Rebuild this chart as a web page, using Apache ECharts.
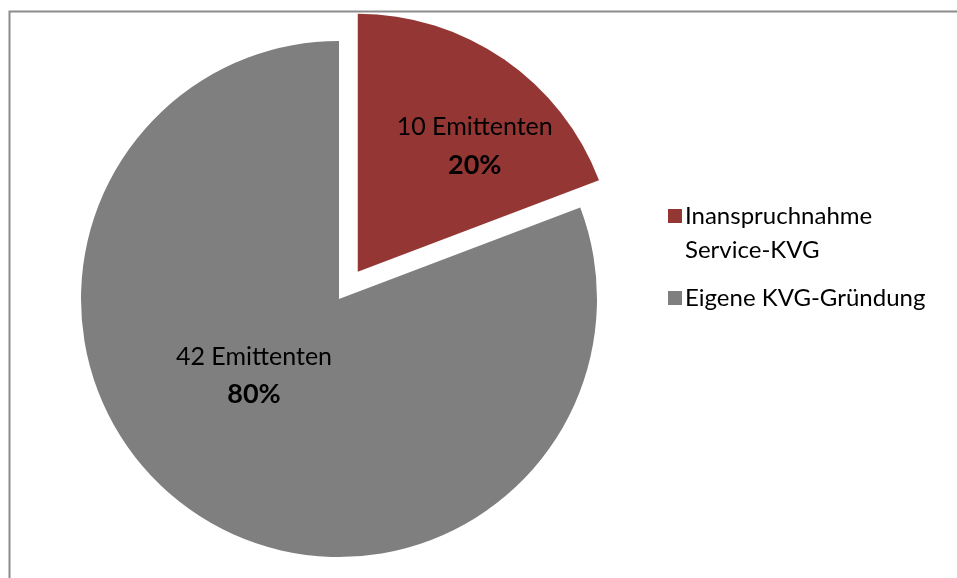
<!DOCTYPE html>
<html><head><meta charset="utf-8">
<script src="https://cdn.jsdelivr.net/npm/echarts@6/dist/echarts.min.js"></script>
<style>html,body{margin:0;padding:0;background:#fff}#c{width:957px;height:578px}</style>
</head><body><div id="c"></div>
<script>
const categories = ['Inanspruchnahme Service-KVG', 'Eigene KVG-Gründung'];
const values = [10, 42];
const percentLabels = ['20%', '80%'];
const colors = ['#943634', '#7f7f7f'];
const labelShift = [[42, -17], [-10, -32]];

const chart = echarts.init(document.getElementById('c'));
const FONT = 'Lato';
chart.setOption({
  animation: false,
  graphic: [{
    type: 'rect', silent: true, z: -1,
    shape: { x: 9.5, y: 11.5, width: 1200, height: 1200 },
    style: { fill: 'none', stroke: '#8c8c8c', lineWidth: 2 }
  }],
  legend: {
    orient: 'vertical',
    left: 663, top: 160,
    itemWidth: 14, itemHeight: 14, itemGap: 14,
    icon: 'rect',
    formatter: function (name) {
      if (name === categories[0]) return ' \nInanspruchnahme\nService-KVG';
      return name;
    },
    textStyle: { fontFamily: FONT, fontSize: 24, color: '#000', lineHeight: 34, padding: [0, 0, 0, -2] },
    data: categories
  },
  series: [{
    type: 'pie',
    center: [339, 299],
    radius: [0, 258],
    startAngle: 90,
    clockwise: true,
    selectedMode: 'single',
    selectedOffset: 33,
    silent: true,
    label: {
      show: true, position: 'inside',
      formatter: function (p) { return '{a|' + p.value + ' Emittenten}\n{b|' + percentLabels[p.dataIndex] + '}'; },
      rich: {
        a: { fontFamily: FONT, fontSize: 25, color: '#000', lineHeight: 38 },
        b: { fontFamily: FONT, fontSize: 27, fontWeight: 'bold', color: '#000', lineHeight: 38 }
      }
    },
    labelLayout: function (p) { return { dx: labelShift[p.dataIndex][0], dy: labelShift[p.dataIndex][1] }; },
    labelLine: { show: false },
    data: categories.map((n, i) => ({ name: n, value: values[i], selected: i === 0, itemStyle: { color: colors[i] } }))
  }]
});
</script></body></html>
